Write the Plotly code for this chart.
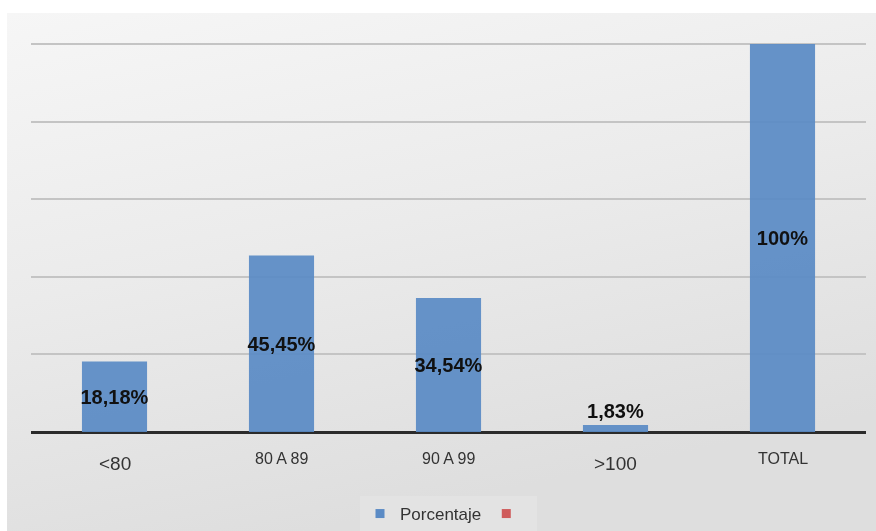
import base64
import plotly.graph_objects as go

# Distribution by range
categories = ["<80", "80 A 89", "90 A 99", ">100", "TOTAL"]
porcentaje = [18.18, 45.45, 34.54, 1.83, 100]
label_sizes = [19, 16, 16, 19, 16]
label_shift = [-31, -26, -26, -31, -26]
text_pos = ["inside", "inside", "inside", "outside", "inside"]

def fmt(v):
    s = str(int(v)) if v == int(v) else f"{v:.2f}"
    return s.replace(".", ",") + "%"

labels = [fmt(v) for v in porcentaje]

BLUE = "#5b8bc5"
RED = "#cf5b5b"
FONT = "Liberation Sans, Arial, Helvetica, sans-serif"

# plot area geometry (px)
L, R, T, B = 31, 10, 40, 99
Y_MAX = 101
PLOT_W = 876 - L - R
PLOT_H = 531 - T - B

# soft grey gradient panel behind the chart
svg = (
    '<svg xmlns="http://www.w3.org/2000/svg" width="100" height="100" preserveAspectRatio="none">'
    '<defs><linearGradient id="g" x1="0" y1="0" x2="0.35" y2="1">'
    '<stop offset="0" stop-color="#f6f6f6"/><stop offset="0.5" stop-color="#ebebeb"/>'
    '<stop offset="1" stop-color="#dedede"/></linearGradient></defs>'
    '<rect width="100" height="100" fill="url(#g)"/></svg>'
)
svg_uri = "data:image/svg+xml;base64," + base64.b64encode(svg.encode()).decode()

fig = go.Figure()
fig.add_trace(go.Bar(
    x=categories, y=porcentaje, name="Porcentaje",
    marker=dict(color=BLUE, line=dict(width=0)), opacity=0.93,
    width=0.39,
    text=labels, textposition=text_pos, insidetextanchor="middle",
    textangle=0, constraintext="none", cliponaxis=False,
    textfont=dict(family=FONT, size=20, color="#000000", weight="bold"),
    showlegend=False, hoverinfo="skip",
))
# legend entries
fig.add_trace(go.Scatter(x=[None], y=[None], mode="markers", name="Porcentaje",
                         marker=dict(symbol="square", size=9, color=BLUE)))
fig.add_trace(go.Scatter(x=[None], y=[None], mode="markers", name=" ",
                         marker=dict(symbol="square", size=9, color=RED)))

for cat, size, shift in zip(categories, label_sizes, label_shift):
    fig.add_annotation(x=cat, y=0, xref="x", yref="y", text=cat, showarrow=False,
                       yanchor="middle", yshift=shift,
                       font=dict(family=FONT, size=size, color="#333333"))

fig.add_layout_image(dict(source=svg_uri, xref="paper", yref="paper",
                          x=(7 - L) / PLOT_W, y=(531 - B - 13) / PLOT_H,
                          sizex=(876 - 7) / PLOT_W, sizey=(531 - 13) / PLOT_H,
                          xanchor="left", yanchor="top", sizing="stretch",
                          layer="below"))

fig.update_layout(
    width=876, height=531,
    margin=dict(l=L, r=R, t=T, b=B, autoexpand=False),
    paper_bgcolor="#ffffff", plot_bgcolor="rgba(0,0,0,0)",
    font=dict(family=FONT, color="#333333"),
    xaxis=dict(showticklabels=False, ticks="", showgrid=False, showline=False,
               range=[-0.5, 4.5], fixedrange=True),
    yaxis=dict(range=[0, Y_MAX], tick0=0, dtick=20, showticklabels=False, ticks="",
               showgrid=True, gridcolor="#c4c4c4", gridwidth=1.5,
               zeroline=True, zerolinecolor="#2b2b2b", zerolinewidth=3,
               showline=False, fixedrange=True),
    legend=dict(orientation="h", x=0.5, xanchor="center", y=-(514 - 432) / PLOT_H,
                yanchor="middle", bgcolor="rgba(255,255,255,0.15)", itemwidth=30,
                font=dict(family=FONT, size=17, color="#333333")),
)

fig.write_html("out.html")
